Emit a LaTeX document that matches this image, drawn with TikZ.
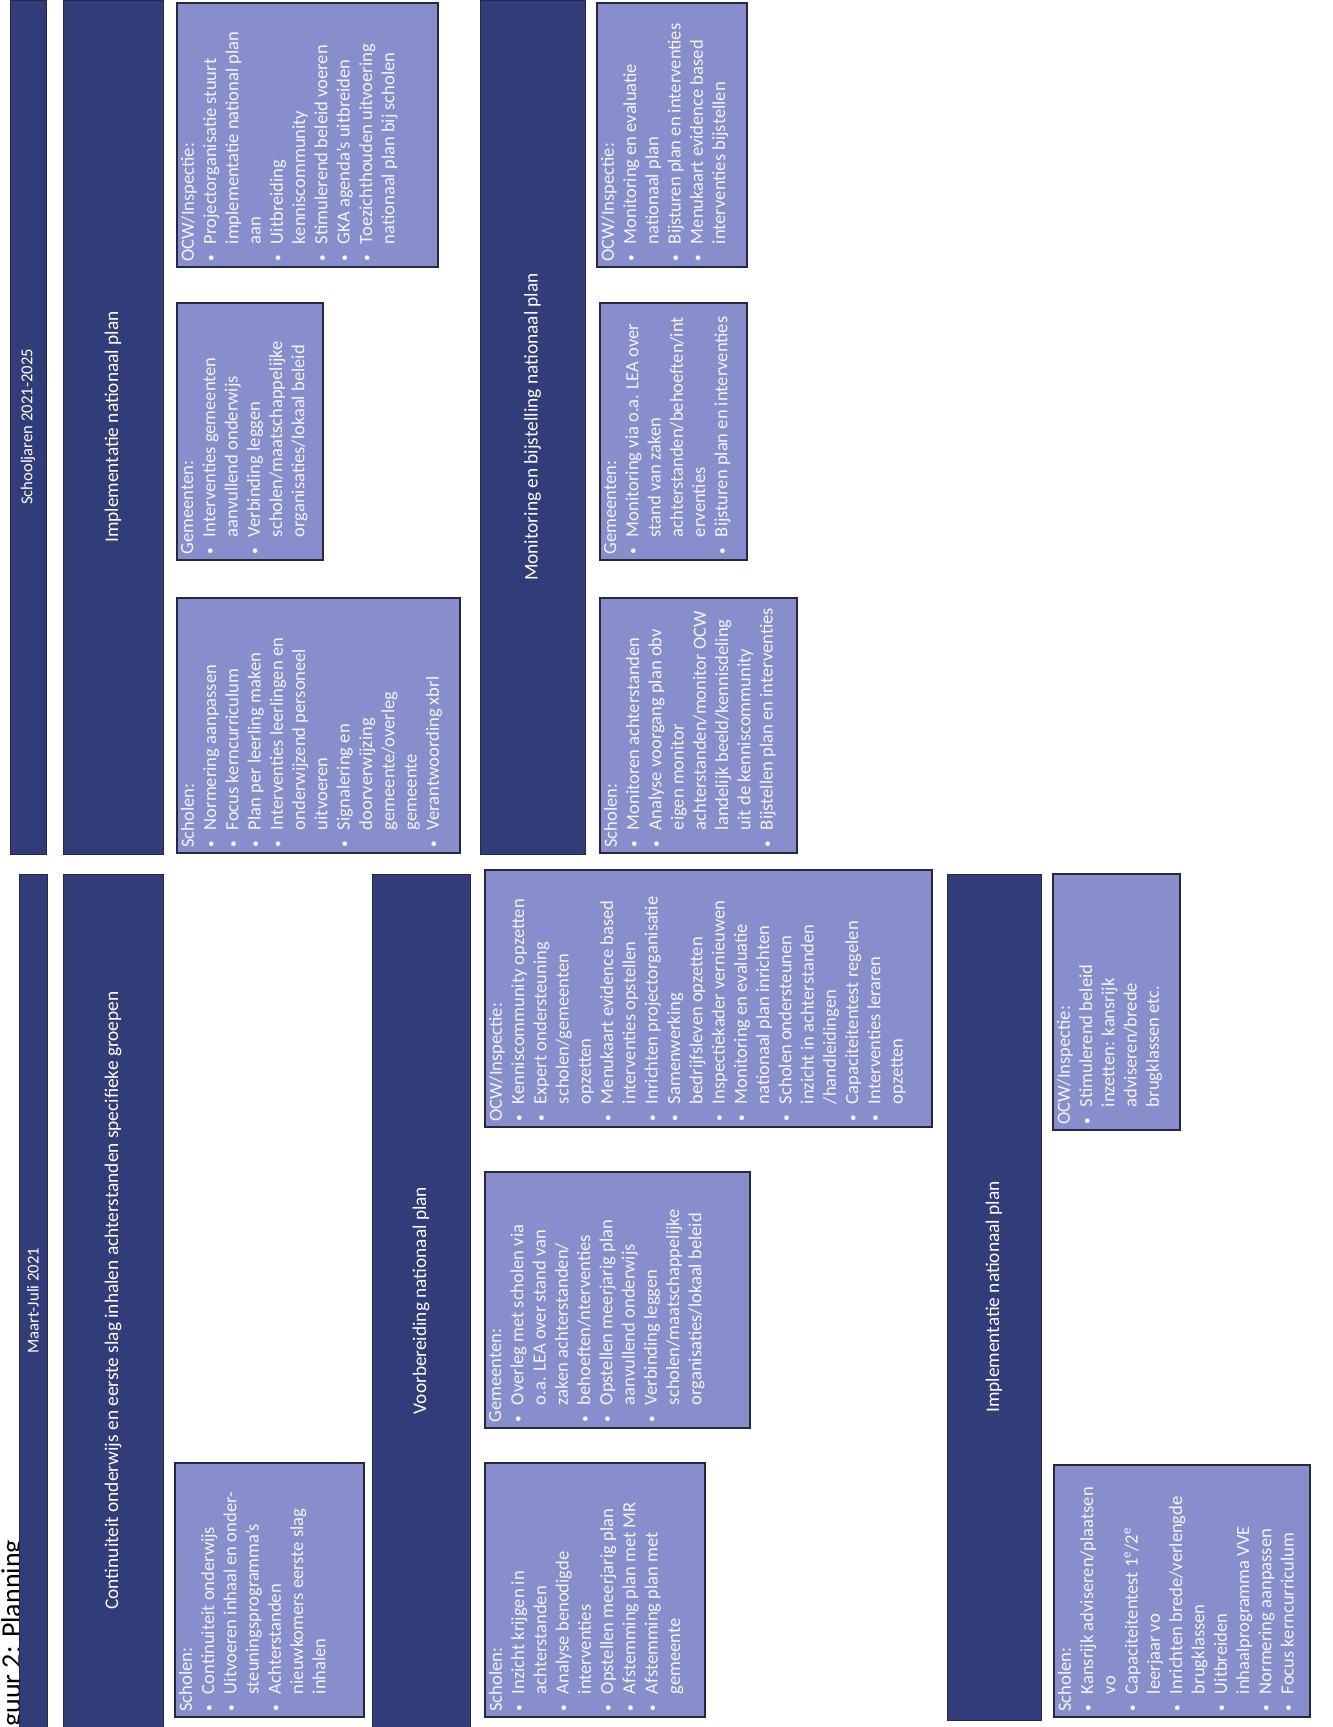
\documentclass[tikz,border=0pt]{standalone}
\usepackage{fontspec}
\setmainfont{Carlito}
\usetikzlibrary{positioning}

\definecolor{barblue}{RGB}{50,60,120}
\definecolor{boxblue}{RGB}{136,142,204}
\definecolor{boxline}{RGB}{38,40,66}
\definecolor{boxtext}{RGB}{244,244,255}

% one pixel of the scan
\newlength{\pxu}
\setlength{\pxu}{0.75pt}

\newcommand{\boxfont}{\fontsize{13.9pt}{16.7pt}\selectfont}
\newcommand{\bdot}{\raisebox{0.12ex}{\fontsize{10pt}{10pt}\selectfont\textbullet}}
\newcommand{\hd}[1]{#1\par}
\newcommand{\bl}[1]{\makebox[0.95em][l]{\bdot}#1\par}
\newcommand{\cl}[1]{\hspace*{0.95em}#1\par}
% width, height (in scan pixels), contents
\newcommand{\pbox}[3]{%
  \begin{minipage}[c][#2\pxu][t]{#1\pxu}%
    \raggedright\leftskip=4pt\parskip=0pt
    \vspace*{3pt}#3%
  \end{minipage}}
\newcommand{\barbox}[3]{%
  \begin{minipage}[c][#2\pxu][c]{#1\pxu}%
    \centering #3%
  \end{minipage}}

\begin{document}
\begin{tikzpicture}[
        x=0.75pt, y=-0.75pt,
        panel/.style={draw=boxline, line width=1.5pt, fill=boxblue, text=boxtext, rotate=90, inner sep=0pt, font=\boxfont},
        phase/.style={draw=boxline, line width=0.6pt, fill=barblue, text=white, rotate=90, inner sep=0pt, font=\fontsize{14.5pt}{17pt}\selectfont},
        period/.style={phase, font=\fontsize{12.5pt}{15pt}\selectfont}
    ]
    \useasboundingbox (0,0) rectangle (1333,1727);
    \clip (0,0) rectangle (1333,1727);

    % --- titel ---
    \node[anchor=north west, rotate=90, inner sep=0pt, font=\fontsize{21pt}{24pt}\selectfont] (titel) at (1,1727) {guur 2: Planning};

    % --- periodes ---
    \node[period] (jaren)  at (28,427)    {\barbox{854}{36}{Schooljaren 2021-2025}};
    \node[period] (maart)  at (33,1300.5) {\barbox{853}{28}{Maart-Juli 2021}};

    % --- fasen ---
    \node[phase] (impltop) at (113,427)    {\barbox{854}{100}{Implementatie nationaal plan}};
    \node[phase] (cont)    at (113,1300.5) {\barbox{853}{100}{Continuiteit onderwijs en eerste slag inhalen achterstanden specifieke groepen}};
    \node[phase] (voorb)   at (421,1300.5) {\barbox{853}{98}{Voorbereiding  nationaal plan}};
    \node[phase] (monit)   at (532.5,427)  {\barbox{854}{105}{Monitoring en bijstelling nationaal plan}};
    \node[phase] (implbot) at (994,1297)   {\barbox{846}{94}{Implementatie nationaal plan}};

    % --- Maart-Juli 2021 ---
    \node[panel] (schcont) at (269.5,1590) {\pbox{254}{189}{%
        \hd{Scholen:}
        \bl{Continuiteit onderwijs}
        \bl{Uitvoeren inhaal en onder-}
        \cl{steuningsprogramma's}
        \bl{Achterstanden}
        \cl{nieuwkomers eerste slag}
        \cl{inhalen}}};

    \node[panel] (schvoorb) at (595,1590) {\pbox{254}{220}{%
        \hd{Scholen:}
        \bl{Inzicht krijgen in}
        \cl{achterstanden}
        \bl{Analyse benodigde}
        \cl{interventies}
        \bl{Opstellen meerjarig plan}
        \bl{Afstemming plan met MR}
        \bl{Afstemming  plan met}
        \cl{gemeente}}};

    \node[panel] (gemvoorb) at (617.5,1300) {\pbox{256}{265}{%
        \hd{Gemeenten:}
        \bl{Overleg met scholen via}
        \cl{o.a. LEA over stand van}
        \cl{zaken achterstanden/}
        \bl{behoeften/nterventies}
        \bl{Opstellen meerjarig plan}
        \cl{aanvullend onderwijs}
        \bl{Verbinding leggen}
        \cl{scholen/maatschappelijke}
        \cl{organisaties/lokaal beleid}}};

    \node[panel] (ocwvoorb) at (708.5,998.5) {\pbox{257}{447}{%
        \hd{OCW/Inspectie:}
        \bl{Kenniscommunity opzetten}
        \bl{Expert ondersteuning}
        \cl{scholen/gemeenten}
        \cl{opzetten}
        \bl{Menukaart evidence based}
        \cl{interventies opstellen}
        \bl{Inrichten projectorganisatie}
        \bl{Samenwerking}
        \cl{bedrijfsleven opzetten}
        \bl{Inspectiekader vernieuwen}
        \bl{Monitoring en evaluatie}
        \cl{nationaal plan inrichten}
        \bl{Scholen ondersteunen}
        \cl{inzicht in achterstanden}
        \cl{/handleidingen}
        \bl{Capaciteitentest regelen}
        \bl{Interventies leraren}
        \cl{opzetten}}};

    \node[panel] (schbot) at (1182,1591) {\pbox{252}{256}{%
        \hd{Scholen:}
        \bl{Kansrijk adviseren/plaatsen}
        \cl{vo}
        \bl{Capaciteitentest 1\textsuperscript{e}/2\textsuperscript{e}}
        \cl{leerjaar vo}
        \bl{Inrichten brede/verlengde}
        \cl{brugklassen}
        \bl{Uitbreiden}
        \cl{inhaalprogramma VVE}
        \bl{Normering aanpassen}
        \bl{Focus kerncurriculum}}};

    \node[panel] (ocwbot) at (1116.5,1002) {\pbox{256}{127}{%
        \hd{OCW/Inspectie:}
        \bl{Stimulerend beleid}
        \cl{inzetten: kansrijk}
        \cl{adviseren/brede}
        \cl{brugklassen etc.}}};

    % --- Schooljaren 2021-2025 ---
    \node[panel] (schimpl) at (318.5,725.5) {\pbox{255}{283}{%
        \hd{Scholen:}
        \bl{Normering aanpassen}
        \bl{Focus kerncurriculum}
        \bl{Plan per leerling maken}
        \bl{Interventies leerlingen en}
        \cl{onderwijzend personeel}
        \cl{uitvoeren}
        \bl{Signalering en}
        \cl{doorverwijzing}
        \cl{gemeente/overleg}
        \cl{gemeente}
        \bl{Verantwoording xbrl}}};

    \node[panel] (gemimpl) at (250,431.5) {\pbox{257}{146}{%
        \hd{Gemeenten:}
        \bl{Interventies gemeenten}
        \cl{aanvullend onderwijs}
        \bl{Verbinding leggen}
        \cl{scholen/maatschappelijke}
        \cl{organisaties/lokaal beleid}}};

    \node[panel] (ocwimpl) at (307.5,135) {\pbox{264}{261}{%
        \hd{OCW/Inspectie:}
        \bl{Projectorganisatie stuurt}
        \cl{implementatie national plan}
        \cl{aan}
        \bl{Uitbreiding}
        \cl{kenniscommunity}
        \bl{Stimulerend beleid voeren}
        \bl{GKA agenda's uitbreiden}
        \bl{Toezichthouden uitvoering}
        \cl{nationaal plan bij scholen}}};

    \node[panel] (schmon) at (698.5,725.5) {\pbox{255}{197}{%
        \hd{Scholen:}
        \bl{Monitoren achterstanden}
        \bl{Analyse voorgang plan obv}
        \cl{eigen monitor}
        \cl{achterstanden/monitor OCW}
        \cl{landelijk beeld/kennisdeling}
        \cl{uit de kenniscommunity}
        \bl{Bijstellen plan en interventies}}};

    \node[panel] (gemmon) at (673.5,431.5) {\pbox{257}{147}{%
        \hd{Gemeenten:}
        \bl{Monitoring via o.a. LEA over}
        \cl{stand van zaken}
        \cl{achterstanden/behoeften/int}
        \cl{erventies}
        \bl{Bijsturen plan en interventies}}};

    \node[panel] (ocwmon) at (672,135) {\pbox{264}{150}{%
        \hd{OCW/Inspectie:}
        \bl{Monitoring en evaluatie}
        \cl{nationaal plan}
        \bl{Bijsturen plan en interventies}
        \bl{Menukaart evidence based}
        \cl{interventies bijstellen}}};

\end{tikzpicture}
\end{document}
